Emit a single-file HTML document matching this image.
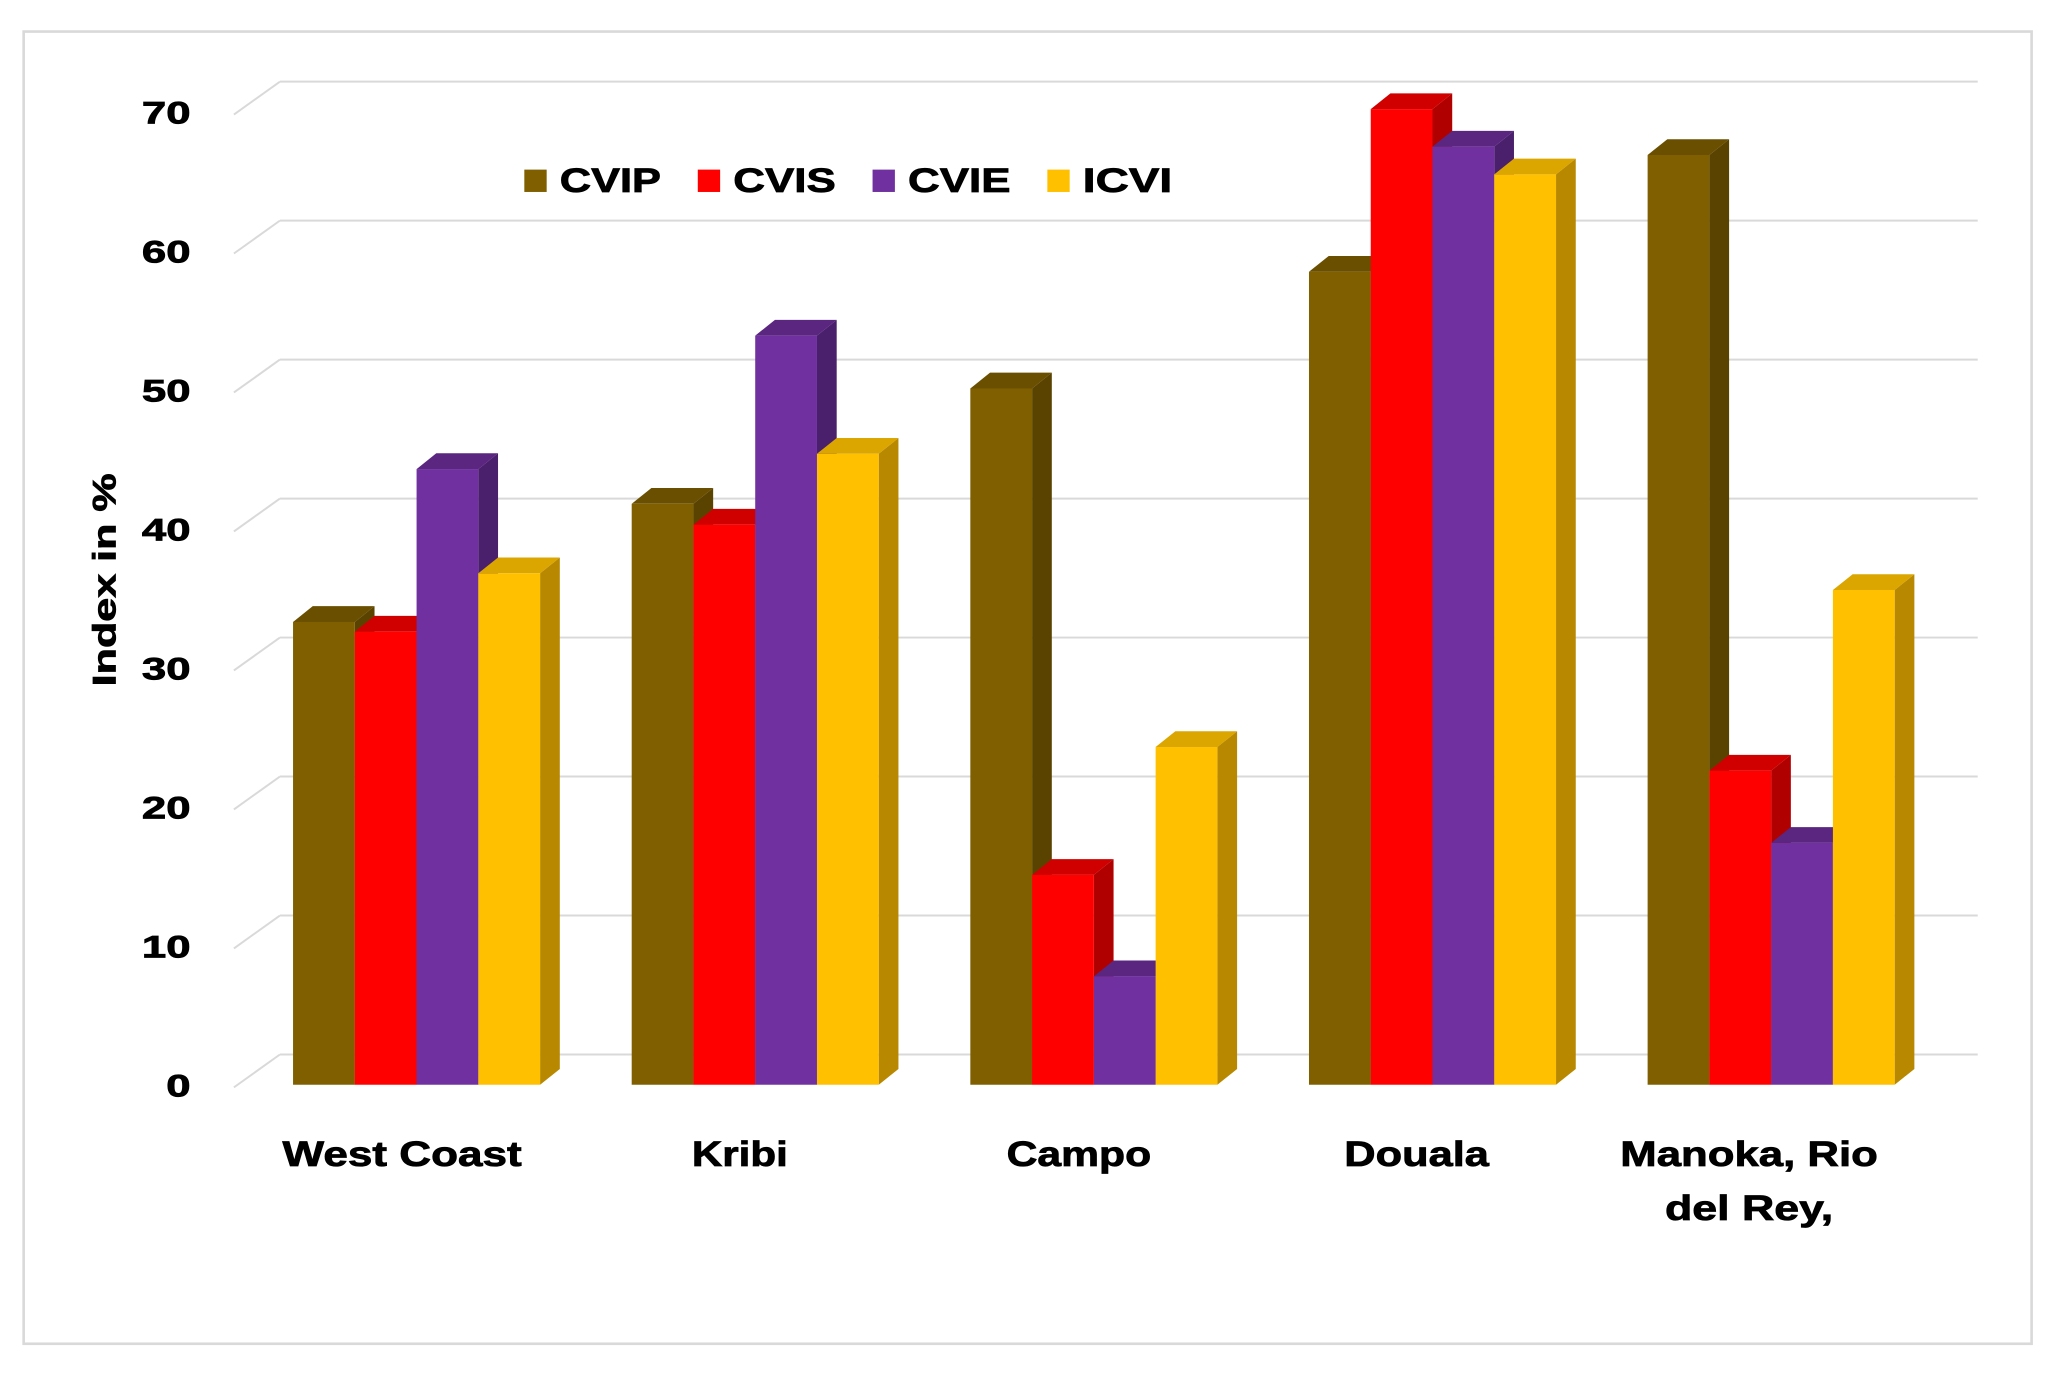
<!DOCTYPE html>
<html><head><meta charset="utf-8"><style>
html,body{margin:0;padding:0;background:#fff}
svg{display:block}
text{font-family:"Liberation Sans",Arial,sans-serif;font-weight:bold;fill:#000;stroke:#000;stroke-width:0.6}
</style></head><body>
<svg id="chart" width="2050" height="1374" viewBox="0 0 1560 1045" preserveAspectRatio="none" xmlns="http://www.w3.org/2000/svg">
<rect x="18" y="24" width="1528" height="998" fill="#fff" stroke="#d9d9d9" stroke-width="2"/>
<g id="grid"></g>
<g id="bars"></g>
<g id="labels"></g>
<text transform="translate(88,441) rotate(-90)" text-anchor="middle" font-size="25" textLength="162" lengthAdjust="spacingAndGlyphs">Index in %</text>
<g id="legend"></g>
</svg>
<script>
const categories = [["West Coast"],["Kribi"],["Campo"],["Douala"],["Manoka, Rio","del Rey,"]];
const seriesNames = ["CVIP","CVIS","CVIE","ICVI"];
const cvip = [33.3, 41.8, 50.1, 58.5, 66.9];
const cvis = [32.6, 40.3, 15.1, 70.2, 22.6];
const cvie = [44.3, 53.9, 7.8, 67.5, 17.4];
const icvi = [36.8, 45.4, 24.3, 65.5, 35.6];
const yTicks = [0,10,20,30,40,50,60,70];

const series = [cvip, cvis, cvie, icvi];
const colors = [["#7f5f00","#5a4300","#6a4f00"],["#ff0000","#b00000","#d00000"],["#7030a0","#4a1f6c","#5a2680"],["#ffc000","#b88800","#dca600"]];
const NS = "http://www.w3.org/2000/svg";
const y0 = 825, unit = 10.57, dx = 15, dy = 12, bw = 47;
const groupX0 = 223, groupStep = 257.7;
function yScale(v){ return y0 - v*unit; }
function mk(tag, attrs, parent){ const e=document.createElementNS(NS,tag); for(const k in attrs) e.setAttribute(k,attrs[k]); parent.appendChild(e); return e; }
function fit(t, str, size){ return Math.round(String(str).length*0); }

const grid = document.getElementById('grid');
const labels = document.getElementById('labels');
yTicks.forEach(t => {
  const yf = yScale(t), yb = yf - 23;
  const l1 = mk('line',{x1:213,y1:yb,x2:1505,y2:yb,stroke:"#d9d9d9","stroke-width":1.5},grid);
  
  
  const l2 = mk('line',{x1:178,y1:yf+2,x2:213,y2:yb,stroke:"#d9d9d9","stroke-width":1.5},grid);
  
  
  const s = String(t);
  const tx = mk('text',{x:145,y:yf+9,"text-anchor":"end","font-size":24,textLength:s.length*18.5,lengthAdjust:"spacingAndGlyphs"},labels);
  tx.textContent = s;
  
  
});

const bars = document.getElementById('bars');
const labelCenters = [306, 563, 821, 1078, 1331];
const labelWidths = [[182],[73],[110],[110],[196,128]];
categories.forEach((cat, gi) => {
  const gx = groupX0 + gi*groupStep;
  series.forEach((s, si) => {
    const x = gx + si*bw, top = yScale(s[gi]), c = colors[si];
    const g = mk('g',{},bars);
    
    
    mk('polygon',{points:`${x+bw},${top} ${x+bw+dx},${top-dy} ${x+bw+dx},${y0-dy} ${x+bw},${y0}`,fill:c[1]},g);
    mk('polygon',{points:`${x},${top} ${x+dx},${top-dy} ${x+bw+dx},${top-dy} ${x+bw},${top}`,fill:c[2]},g);
    mk('rect',{x:x,y:top,width:bw,height:y0-top,fill:c[0]},g);
  });
  cat.forEach((line, li) => {
    const t = mk('text',{x:labelCenters[gi],y:887+li*41,"text-anchor":"middle","font-size":27,textLength:labelWidths[gi][li],lengthAdjust:"spacingAndGlyphs"},labels);
    t.textContent = line;
    
    
  });
});

const legend = document.getElementById('legend');
const legX = [399,531,664,797];
const legW = [77,78,78,68];
seriesNames.forEach((n, i) => {
  const r = mk('rect',{x:legX[i],y:129,width:17,height:17,fill:colors[i][0]},legend);
  
  
  const t = mk('text',{x:legX[i]+27,y:146,"font-size":26,textLength:legW[i],lengthAdjust:"spacingAndGlyphs"},legend);
  t.textContent = n;
  
  
});
</script>
</body></html>
